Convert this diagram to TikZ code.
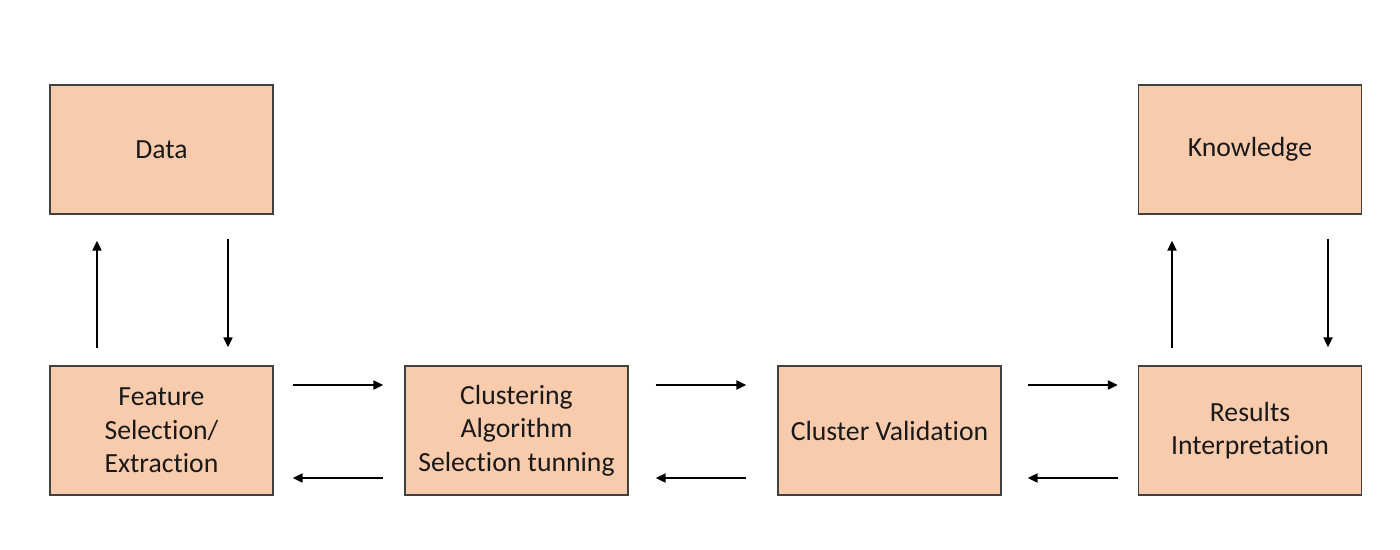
\documentclass[tikz,border=0pt]{standalone}
\usepackage{fontspec}
\setmainfont[Ligatures={NoCommon}]{Carlito}
\usetikzlibrary{calc,arrows.meta}
\definecolor{boxfill}{HTML}{F8CBAD}
\definecolor{boxline}{HTML}{404040}
\tikzset{
  box/.style={draw=boxline, line width=1.3pt, fill=boxfill, rectangle, minimum width=223pt, minimum height=129pt, inner sep=0pt, align=center, font=\fontsize{27.7pt}{33.5pt}\selectfont, text=black!90},
  arr/.style={line width=2pt, -{Triangle[length=10pt,width=9pt]}}
}
\begin{document}
\begin{tikzpicture}[x=1pt,y=-1pt]
\useasboundingbox (0,0) rectangle (1400,549);
\node[box] (data) at (161.5,149.5) {Data};
\node[box] (know) at (1250,149.5) {Knowledge};
\node[box] (feat) at (161.5,430.5) {Feature\\Selection/\\Extraction};
\node[box] (clust) at (516.5,430.5) {Clustering\\Algorithm\\Selection tunning};
\node[box] (valid) at (889.5,430.5) {Cluster Validation};
\node[box] (res) at (1250,430.5) {Results\\Interpretation};
% vertical arrows left
\draw[arr] ($(feat.north)+(-64.5,-17)$) -- ($(data.south)+(-64.5,26)$);
\draw[arr] ($(data.south)+(66.5,24)$) -- ($(feat.north)+(66.5,-18)$);
% vertical arrows right
\draw[arr] ($(res.north)+(-78,-17)$) -- ($(know.south)+(-78,26)$);
\draw[arr] ($(know.south)+(78,24)$) -- ($(res.north)+(78,-18)$);
% horizontal arrows
\draw[arr] ($(feat.east)+(19,-45.5)$) -- ($(clust.west)+(-21,-45.5)$);
\draw[arr] ($(clust.west)+(-21,47.5)$) -- ($(feat.east)+(19,47.5)$);
\draw[arr] ($(clust.east)+(27,-45.5)$) -- ($(valid.west)+(-31,-45.5)$);
\draw[arr] ($(valid.west)+(-31,47.5)$) -- ($(clust.east)+(27,47.5)$);
\draw[arr] ($(valid.east)+(26,-45.5)$) -- ($(res.west)+(-20,-45.5)$);
\draw[arr] ($(res.west)+(-20,47.5)$) -- ($(valid.east)+(26,47.5)$);
\end{tikzpicture}
\end{document}
